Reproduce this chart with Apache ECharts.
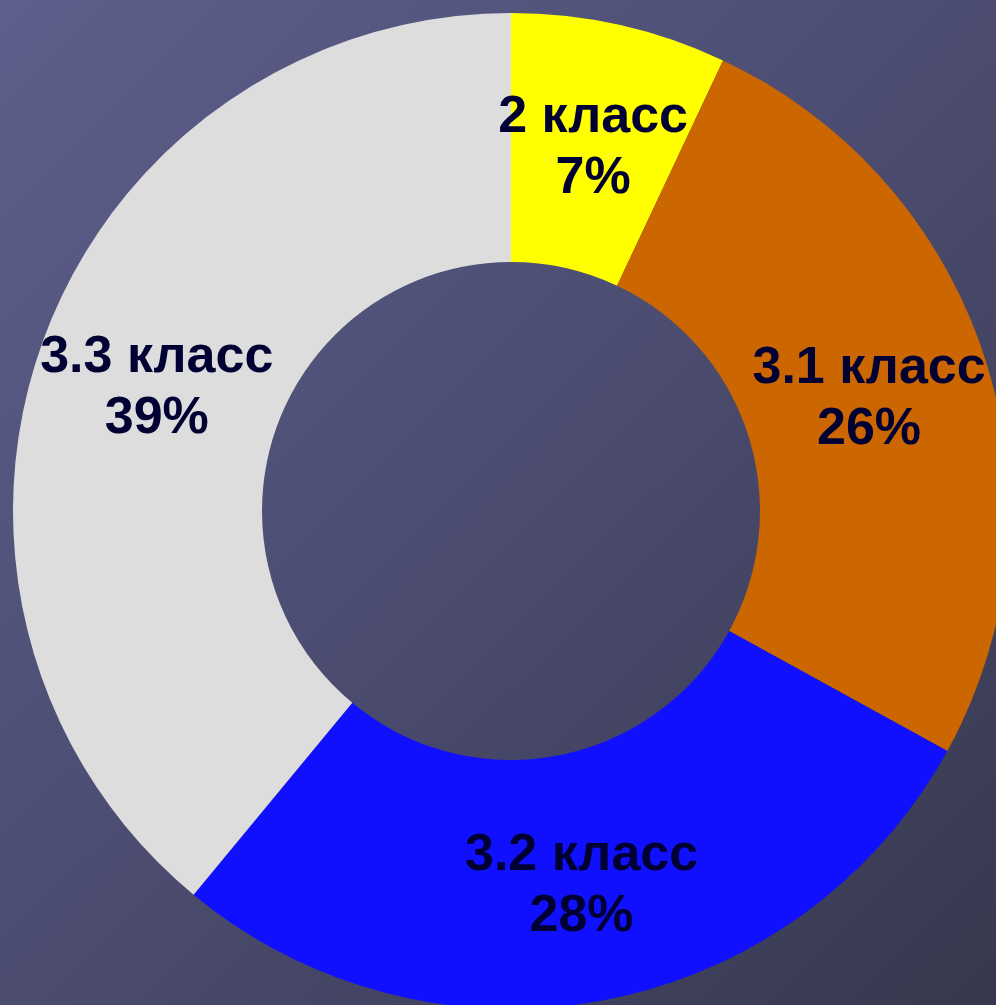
<!DOCTYPE html>
<html>
<head>
<meta charset="utf-8">
<script src="https://cdn.jsdelivr.net/npm/echarts@6/dist/echarts.min.js"></script>
<style>
  html, body { margin: 0; padding: 0; }
  #box { width: 996px; height: 1005px; }
</style>
</head>
<body>
<div id="box"></div>
<script>
var categories = ['2 класс', '3.1 класс', '3.2 класс', '3.3 класс'];
var percents = [7, 26, 28, 39];
var sliceColors = ['#FFFF00', '#CC6600', '#1010FF', '#DDDDDD'];

var myChart = echarts.init(document.getElementById('box'));

var pieData = [];
for (var i = 0; i < categories.length; i++) {
    pieData.push({ name: categories[i], value: percents[i] });
}

myChart.setOption({
    backgroundColor: {
        type: 'linear', x: 0, y: 0, x2: 1, y2: 1,
        colorStops: [
            { offset: 0, color: '#5d5f8c' },
            { offset: 0.5, color: '#4b4c70' },
            { offset: 1, color: '#37384d' }
        ]
    },
    color: sliceColors,
    series: [{
        type: 'pie',
        center: [511, 511],
        radius: [249, 498],
        startAngle: 90,
        clockwise: true,
        silent: true,
        animation: false,
        data: pieData,
        itemStyle: { borderWidth: 0 },
        label: {
            show: true,
            position: 'inside',
            offset: [0, 5],
            formatter: function (p) {
                return p.name + '\n' + p.value + '%';
            },
            color: '#000033',
            fontFamily: 'Liberation Sans, Arial, sans-serif',
            fontWeight: 'bold',
            fontSize: 52,
            lineHeight: 61
        },
        labelLine: { show: false }
    }]
});
</script>
</body>
</html>
